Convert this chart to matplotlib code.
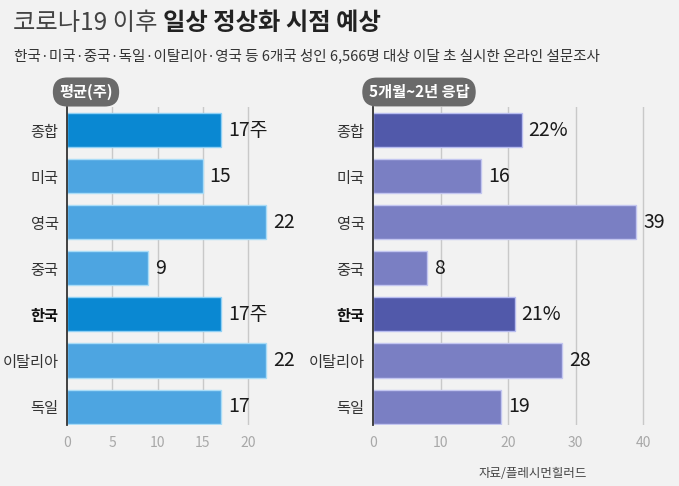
import matplotlib
matplotlib.use("Agg")
import matplotlib.pyplot as plt

plt.rcParams['font.family'] = ['Noto Sans CJK KR', 'DejaVu Sans']

# ---------------------------------------------------------------------------
# Data
# ---------------------------------------------------------------------------
countries = ["종합", "미국", "영국", "중국", "한국", "이탈리아", "독일"]
avg_weeks = [17, 15, 22, 9, 17, 22, 17]
share_5m_2y = [22, 16, 39, 8, 21, 28, 19]
highlight = ["종합", "한국"]   # darker bars + unit on the value label
bold_label = ["한국"]

left_ticks = [0, 5, 10, 15, 20]
right_ticks = [0, 10, 20, 30, 40]

title_light = "코로나19 이후 "
title_bold = "일상 정상화 시점 예상"
subtitle = "한국·미국·중국·독일·이탈리아·영국 등 6개국 성인 6,566명 대상 이달 초 실시한 온라인 설문조사"
source = "자료/플레시먼힐러드"

W, H = 679, 486
BG = "#f2f2f2"


def fx(px):
    return px / W


def fy(py):
    return 1 - py / H


fig = plt.figure(figsize=(W / 100, H / 100), dpi=100, facecolor=BG)


def draw_panel(ax, values, ticks, xmax, c_hi, c_lo, e_hi, e_lo, unit):
    ax.set_facecolor(BG)
    ypos = list(range(len(countries)))
    cols = [c_hi if c in highlight else c_lo for c in countries]
    edges = [e_hi if c in highlight else e_lo for c in countries]
    ax.barh(ypos, values, height=0.74, color=cols, edgecolor=edges,
            linewidth=1.0, zorder=3)
    ax.set_xlim(0, xmax)
    ax.set_ylim(6.4, -0.5)

    for t in ticks[1:]:
        ax.axvline(t, color="#c9c9c9", linewidth=1.0, zorder=1)

    for sp in ["top", "right", "bottom"]:
        ax.spines[sp].set_visible(False)
    ax.spines["left"].set_color("#333333")
    ax.spines["left"].set_linewidth(1.3)
    ax.spines["left"].set_zorder(4)

    ax.set_xticks(ticks)
    ax.set_xticklabels([str(t) for t in ticks], color="#a8a8a8", fontsize=10,
                       fontweight="light")
    ax.tick_params(axis="x", length=0, pad=8)
    ax.set_yticks(ypos)
    ax.set_yticklabels(countries, fontsize=11, color="#333333")
    ax.tick_params(axis="y", length=0, pad=6)
    for lab in ax.get_yticklabels():
        if lab.get_text() in bold_label:
            lab.set_fontweight("bold")
            lab.set_color("#111111")

    for y, (c, v) in enumerate(zip(countries, values)):
        txt = f"{v}{unit}" if c in highlight else f"{v}"
        ax.annotate(txt, (v, y), xytext=(5, 0), textcoords="offset points",
                    ha="left", va="center", fontsize=14, fontweight="medium",
                    color="#1a1a1a", clip_on=False, zorder=5)


# left panel: 0 at x=67px, 9.05 px per unit
l_xmax = 24
ax_l = fig.add_axes([fx(67), fy(425), fx(l_xmax * 9.05), (425 - 107) / H])
draw_panel(ax_l, avg_weeks, left_ticks, l_xmax,
           "#0a88d2", "#4da5e1", "#8fd0f5", "#a9dcf7", "주")

# right panel: 0 at x=373px, 6.75 px per unit
r_xmax = 42
ax_r = fig.add_axes([fx(373), fy(425), fx(r_xmax * 6.75), (425 - 107) / H])
draw_panel(ax_r, share_5m_2y, right_ticks, r_xmax,
           "#5159aa", "#7a7fc3", "#b8bdf0", "#c3c6f0", "%")

# pill labels above each panel
pill = dict(boxstyle="round,pad=0.42,rounding_size=0.95", fc="#6a6a6a", ec="none")
fig.text(fx(86), fy(92), "평균(주)", ha="center", va="center", fontsize=11,
         fontweight="bold", color="white", bbox=pill)
fig.text(fx(419), fy(92), "5개월~2년 응답", ha="center", va="center", fontsize=11,
         fontweight="bold", color="white", bbox=pill)

# title (light part + bold part)
t1 = fig.text(fx(13), fy(23), title_light, ha="left", va="center", fontsize=17.5,
              fontweight="light", color="#444444")
renderer = fig.canvas.get_renderer()
bb = t1.get_window_extent(renderer)
fig.text(bb.x1 / W, fy(23), title_bold, ha="left", va="center", fontsize=17.5,
         fontweight="bold", color="#222222")

fig.text(fx(14), fy(56), subtitle, ha="left", va="center", fontsize=10.5,
         color="#333333")

fig.text(fx(533), fy(473), source, ha="center", va="center", fontsize=9,
         color="#444444")

fig.savefig("out.png", dpi=100, facecolor=BG)
